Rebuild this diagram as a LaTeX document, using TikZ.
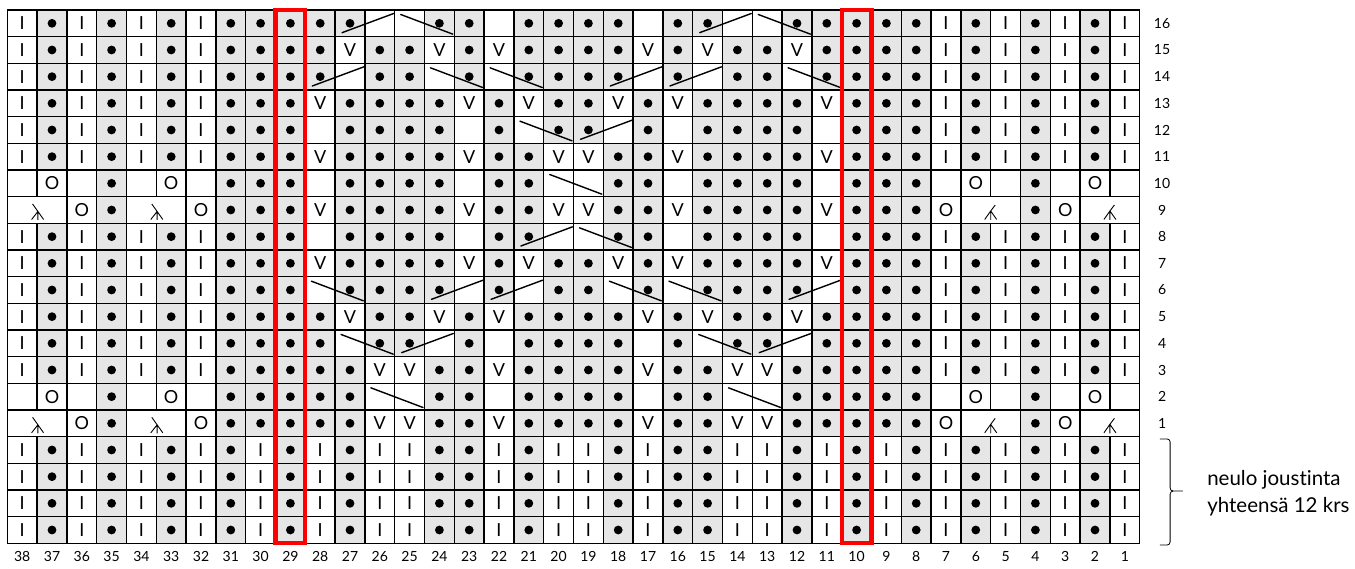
\documentclass[tikz,border=0pt]{standalone}
\usepackage{fontspec}
\setmainfont{Lato}[Ligatures=NoCommon]
\usetikzlibrary{calc}
\definecolor{purlGrey}{HTML}{E6E6E6}
\definecolor{markRed}{HTML}{FF0000}

\begin{document}
\begin{tikzpicture}[x=29.8pt, y=26.667pt, every node/.style={font=\fontsize{14}{16}\selectfont}]
	\tikzset{cell/.style={draw, line width=1.4pt, minimum width=29.8pt, minimum height=26.667pt,
			inner sep=0pt, fill=white, font=\fontsize{18}{18}\selectfont, node contents={}},
		cellI/.style={cell, node contents=I},
		cellE/.style={cell},
		cellV/.style={cell, node contents=V},
		cellO/.style={cell, node contents=O},
		cellP/.style={cell, fill=purlGrey,
			path picture={\fill[black] (path picture bounding box.center) circle (4.4pt);}},
		cellL/.style={cell, minimum width=59.6pt, xshift=14.9pt,
			path picture={\draw[black, line width=0.9pt, shift={(path picture bounding box.center)}, x=1pt, y=1pt]
				(-4.5,6) -- (6.5,-9.5) (0.8,-1.5) -- (-5.5,-9.5) (0.8,-1.5) -- (0.8,-10);}},
		cellR/.style={cell, minimum width=59.6pt, xshift=14.9pt,
			path picture={\draw[black, line width=0.9pt, shift={(path picture bounding box.center)}, x=1pt, y=1pt]
				(-6,-9.5) -- (0,-1) -- (6,-9.5) (0,-1) -- (0,-10) (0,-1) -- (4.5,5);}},
		cellX/.style={inner sep=0pt, node contents={}},
		cable/.style={line width=1.4pt, line cap=round},
		redbox/.style={draw=markRed, line width=4.3pt},
		num/.style={font=\fontsize{14}{16}\selectfont},
		note/.style={align=left, inner sep=0pt, font=\fontsize{20.5}{27}\selectfont}}
	\useasboundingbox (-7.3pt,-24.67pt) rectangle ++(1355pt,568pt);
	% chart, columns 38 ... 1
	\foreach \rw/\cells [count=\n] in {
		16/{I,P,I,P,I,P,I,P,P,P,P,P,E,E,P,P,E,P,P,P,P,E,P,P,E,E,P,P,P,P,P,I,P,I,P,I,P,I},
		15/{I,P,I,P,I,P,I,P,P,P,P,V,P,P,V,P,V,P,P,P,P,V,P,V,P,P,V,P,P,P,P,I,P,I,P,I,P,I},
		14/{I,P,I,P,I,P,I,P,P,P,P,E,P,P,E,P,E,P,P,P,P,E,P,E,P,P,E,P,P,P,P,I,P,I,P,I,P,I},
		13/{I,P,I,P,I,P,I,P,P,P,V,P,P,P,P,V,P,V,P,P,V,P,V,P,P,P,P,V,P,P,P,I,P,I,P,I,P,I},
		12/{I,P,I,P,I,P,I,P,P,P,E,P,P,P,P,E,P,E,P,P,E,P,E,P,P,P,P,E,P,P,P,I,P,I,P,I,P,I},
		11/{I,P,I,P,I,P,I,P,P,P,V,P,P,P,P,V,P,P,V,V,P,P,V,P,P,P,P,V,P,P,P,I,P,I,P,I,P,I},
		10/{E,O,E,P,E,O,E,P,P,P,E,P,P,P,P,E,P,P,E,E,P,P,E,P,P,P,P,E,P,P,P,E,O,E,P,E,O,E},
		9/{L,X,O,P,L,X,O,P,P,P,V,P,P,P,P,V,P,P,V,V,P,P,V,P,P,P,P,V,P,P,P,O,R,X,P,O,R,X},
		8/{I,P,I,P,I,P,I,P,P,P,E,P,P,P,P,E,P,P,E,E,P,P,E,P,P,P,P,E,P,P,P,I,P,I,P,I,P,I},
		7/{I,P,I,P,I,P,I,P,P,P,V,P,P,P,P,V,P,V,P,P,V,P,V,P,P,P,P,V,P,P,P,I,P,I,P,I,P,I},
		6/{I,P,I,P,I,P,I,P,P,P,E,P,P,P,P,E,P,E,P,P,E,P,E,P,P,P,P,E,P,P,P,I,P,I,P,I,P,I},
		5/{I,P,I,P,I,P,I,P,P,P,P,V,P,P,V,P,V,P,P,P,P,V,P,V,P,P,V,P,P,P,P,I,P,I,P,I,P,I},
		4/{I,P,I,P,I,P,I,P,P,P,P,E,P,P,E,P,E,P,P,P,P,E,P,E,P,P,E,P,P,P,P,I,P,I,P,I,P,I},
		3/{I,P,I,P,I,P,I,P,P,P,P,P,V,V,P,P,V,P,P,P,P,V,P,P,V,V,P,P,P,P,P,I,P,I,P,I,P,I},
		2/{E,O,E,P,E,O,E,P,P,P,P,P,E,E,P,P,E,P,P,P,P,E,P,P,E,E,P,P,P,P,P,E,O,E,P,E,O,E},
		1/{L,X,O,P,L,X,O,P,P,P,P,P,V,V,P,P,V,P,P,P,P,V,P,P,V,V,P,P,P,P,P,O,R,X,P,O,R,X},
		a/{I,P,I,P,I,P,I,P,I,P,I,P,I,I,P,P,I,P,I,I,P,I,P,P,I,I,P,I,P,I,P,I,P,I,P,I,P,I},
		b/{I,P,I,P,I,P,I,P,I,P,I,P,I,I,P,P,I,P,I,I,P,I,P,P,I,I,P,I,P,I,P,I,P,I,P,I,P,I},
		c/{I,P,I,P,I,P,I,P,I,P,I,P,I,I,P,P,I,P,I,I,P,I,P,P,I,I,P,I,P,I,P,I,P,I,P,I,P,I},
		d/{I,P,I,P,I,P,I,P,I,P,I,P,I,I,P,P,I,P,I,I,P,I,P,P,I,I,P,I,P,I,P,I,P,I,P,I,P,I}}
		\foreach \s [count=\i, evaluate=\i as \c using int(39-\i)] in \cells
			\node[cell\s, name=k\rw-\c, at={(\i-0.5, 20.5-\n)}];
	% cables, row / left column of the pair
	\foreach \rw/\col in {16/27, 16/15, 14/28, 14/18, 14/16, 12/19, 8/21, 6/24, 6/22, 6/12, 4/25, 4/13}
		\draw[cable] ([shift={(7pt,4pt)}]38-\col,\rw+3) -- ([shift={(-1pt,-3.5pt)}]40-\col,\rw+4);
	\foreach \rw/\col in {16/25, 16/13, 14/24, 14/22, 14/12, 12/21, 10/20, 8/19, 6/28, 6/18, 6/16,
		4/27, 4/15, 2/26, 2/14}
		\draw[cable] ([shift={(6pt,-4.5pt)}]38-\col,\rw+4) -- ([shift={(-1.5pt,2.5pt)}]40-\col,\rw+3);
	\draw[redbox] (9,0) rectangle (10,20);
	\draw[redbox] (28,0) rectangle (29,20);
	% numbering
	\foreach \r in {1,...,16}
		\node[num] (row\r) at (38.75, \r+3.5) {\r};
	\foreach \c in {1,...,38}
		\node[num] (col\c) at (38.5-\c, -0.5) {\c};
	\draw[line width=0.8pt] (38.68,3.91) -- (38.93,3.91) to[out=0,in=90] (39.02,3.8) -- (39.02,2.08)
		to[out=-90,in=180] (39.12,1.96) -- (39.45,1.96);
	\draw[line width=0.8pt] (39.12,1.96) to[out=180,in=90] (39.02,1.84) -- (39.02,0.05)
		to[out=-90,in=0] (38.93,-0.06) -- (38.68,-0.06);
	\node[note, anchor=west] (note) at (40.26,1.88) {neulo joustinta\\yhteensä 12 krs};
\end{tikzpicture}
\end{document}
